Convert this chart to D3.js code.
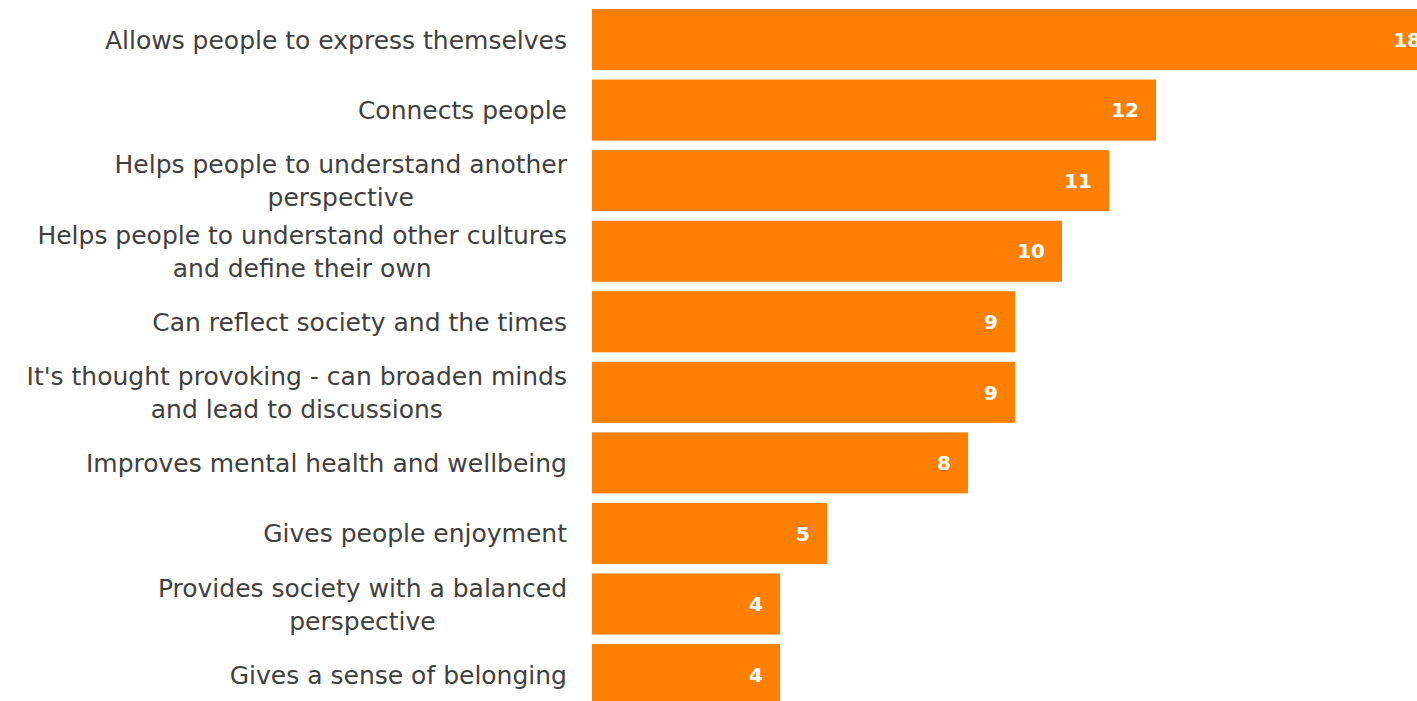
<!DOCTYPE html>
<html>
<head>
<meta charset="utf-8">
<script src="https://d3js.org/d3.v7.min.js"></script>
<style>
  body { margin: 0; background: #fff; }
  svg { display: block; }
  .cat { font-family: "DejaVu Sans", sans-serif; font-size: 25px; fill: #404040; }
  .val { font-family: "DejaVu Sans", sans-serif; font-size: 20px; font-weight: bold; fill: #fff; }
</style>
</head>
<body>
<div id="chart"></div>
<script>
var categories = [
  ["Allows people to express themselves"],
  ["Connects people"],
  ["Helps people to understand another", "perspective"],
  ["Helps people to understand other cultures", "and define their own"],
  ["Can reflect society and the times"],
  ["It's thought provoking - can broaden minds", "and lead to discussions"],
  ["Improves mental health and wellbeing"],
  ["Gives people enjoyment"],
  ["Provides society with a balanced", "perspective"],
  ["Gives a sense of belonging"]
];
var values = [18, 12, 11, 10, 9, 9, 8, 5, 4, 4];

var svgWidth = 1417;
var svgHeight = 701;

var svg = d3.select("#chart")
    .append("svg")
    .attr("width", svgWidth)
    .attr("height", svgHeight);

var x = d3.scaleLinear().domain([0, 18]).range([592, 1438]);
var y = d3.scaleBand()
    .domain(d3.range(values.length))
    .range([-0.5, 714.6])
    .paddingInner(0.135)
    .paddingOuter(0.135);

svg.selectAll("rect")
    .data(values)
    .enter()
    .append("rect")
    .attr("x", x(0))
    .attr("y", function (d, i) { return y(i); })
    .attr("width", function (d) { return x(d) - x(0); })
    .attr("height", y.bandwidth())
    .attr("fill", "#ff7f00");

svg.selectAll(".val")
    .data(values)
    .enter()
    .append("text")
    .attr("class", "val")
    .attr("x", function (d) { return x(d) - 17; })
    .attr("y", function (d, i) { return y(i) + y.bandwidth() / 2; })
    .attr("dy", "0.36em")
    .attr("text-anchor", "end")
    .text(function (d) { return d; });

var lineH = 33;
var cat = svg.selectAll(".cat")
    .data(categories)
    .enter()
    .append("text")
    .attr("class", "cat")
    .attr("text-anchor", "end")
    .attr("transform", function (d, i) {
        return "translate(567," + (y(i) + y.bandwidth() / 2) + ")";
    });

cat.selectAll("tspan")
    .data(function (d) { return d; })
    .enter()
    .append("tspan")
    .attr("x", 0)
    .attr("y", function (d, j, nodes) { return (j - (nodes.length - 1) / 2) * lineH; })
    .attr("dy", "0.36em")
    .text(function (d) { return d; });

// centre the second line under the first, as in the reference
cat.each(function () {
    var spans = d3.select(this).selectAll("tspan").nodes();
    if (spans.length > 1) {
        var w0 = spans[0].getComputedTextLength();
        var w1 = spans[1].getComputedTextLength();
        d3.select(spans[1]).attr("x", -(w0 - w1) / 2);
    }
});
</script>
</body>
</html>
